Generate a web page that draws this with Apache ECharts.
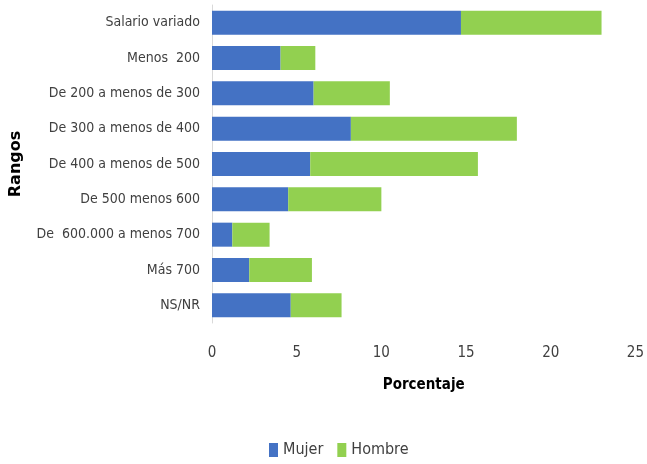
<!DOCTYPE html>
<html><head><meta charset="utf-8">
<script src="https://cdn.jsdelivr.net/npm/echarts@6/dist/echarts.min.js"></script>
<style>html,body{margin:0;padding:0;background:#fff}#c{width:647px;height:464px}</style>
</head><body><div id="c"></div>
<script>
var categories = ['Salario variado','Menos  200','De 200 a menos de 300','De 300 a menos de 400','De 400 a menos de 500','De 500 menos 600','De  600.000 a menos 700','Más 700','NS/NR'];
var mujer = [14.7, 4.05, 6.0, 8.2, 5.8, 4.5, 1.2, 2.2, 4.65];
var hombre = [8.3, 2.05, 4.5, 9.8, 9.9, 5.5, 2.2, 3.7, 3.0];
var xTicks = [0, 5, 10, 15, 20, 25];

var chart = echarts.init(document.getElementById('c'));
chart.setOption({
  animation: false,
  grid: {left: 212, right: 7, top: 5, bottom: 141},
  legend: {
    bottom: 1, left: 264, itemWidth: 9, itemHeight: 14, itemGap: 14,
    icon: 'rect',
    textStyle: {fontFamily: 'DejaVu Sans Condensed', fontSize: 16, color: '#404040'},
    data: ['Mujer','Hombre']
  },
  xAxis: {
    type: 'value', min: xTicks[0], max: xTicks[xTicks.length-1], interval: 5,
    name: 'Porcentaje', nameLocation: 'middle', nameGap: 55,
    nameTextStyle: {fontFamily: 'DejaVu Sans Condensed', fontWeight: 'bold', fontSize: 15, color: '#000'},
    axisLine: {show: false}, axisTick: {show: false}, splitLine: {show: false},
    axisLabel: {fontFamily: 'DejaVu Sans Condensed', fontSize: 15, color: '#404040', margin: 23}
  },
  yAxis: {
    type: 'category', inverse: true, data: categories,
    name: 'Rangos', nameLocation: 'middle', nameGap: 188, nameRotate: 90,
    nameTextStyle: {fontFamily: 'DejaVu Sans', fontWeight: 'bold', fontSize: 16, color: '#000'},
    axisLine: {show: true, lineStyle: {color: '#d9d9d9', width: 1}},
    axisTick: {show: false},
    axisLabel: {fontFamily: 'DejaVu Sans Condensed', fontSize: 14, color: '#404040', margin: 12}
  },
  series: [
    {name: 'Mujer', type: 'bar', stack: 't', data: mujer, barWidth: '68%', itemStyle: {color: '#4472C4'}},
    {name: 'Hombre', type: 'bar', stack: 't', data: hombre, barWidth: '68%', itemStyle: {color: '#92D050'}}
  ]
});
</script></body></html>
